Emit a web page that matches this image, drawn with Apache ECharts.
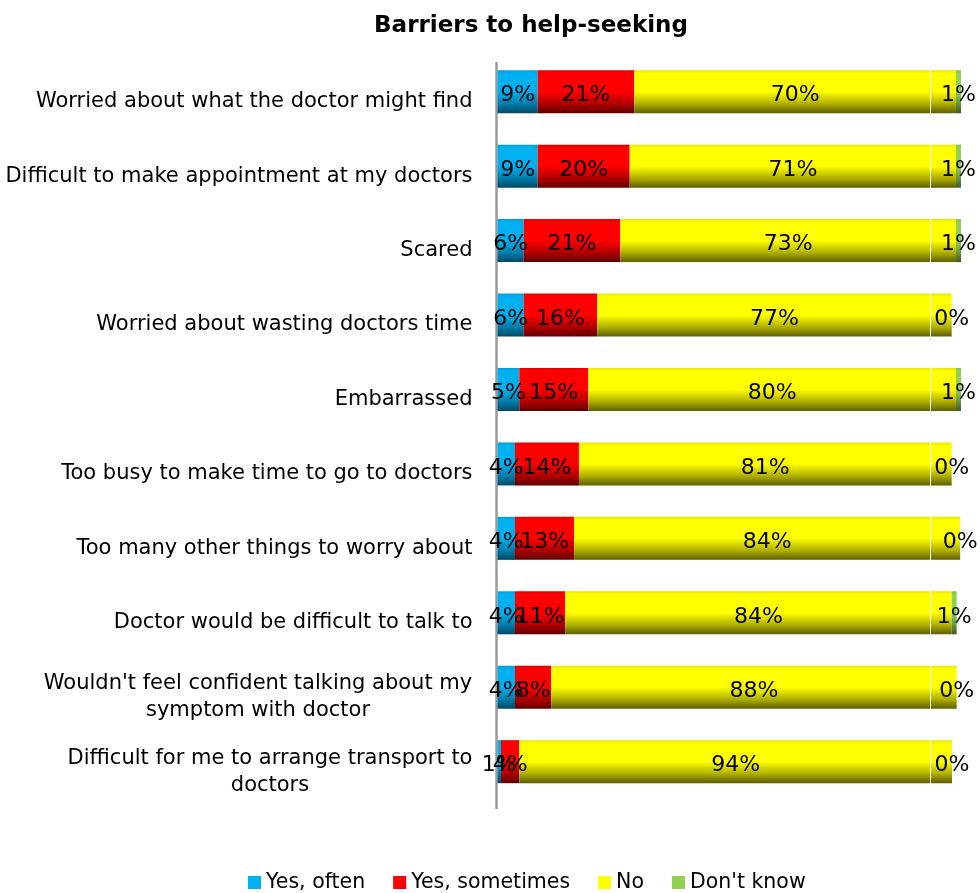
<!DOCTYPE html>
<html>
<head>
<meta charset="utf-8">
<title>Barriers to help-seeking</title>
<script src="https://cdn.jsdelivr.net/npm/echarts@6/dist/echarts.min.js"></script>
<style>
  html, body { margin: 0; padding: 0; background: #fff; }
  #chart { width: 980px; height: 893px; }
</style>
</head>
<body>
<div id="chart"></div>
<script>
// Survey categories, top to bottom
const categories = [
  'Worried about what the doctor might find',
  'Difficult to make appointment at my doctors',
  'Scared',
  'Worried about wasting doctors time',
  'Embarrassed',
  'Too busy to make time to go to doctors',
  'Too many other things to worry about',
  'Doctor would be difficult to talk to',
  "Wouldn't feel confident talking about my\nsymptom with doctor",
  'Difficult for me to arrange transport to\ndoctors'
];

// Percentages of respondents per answer
const yesOften     = [8.74, 8.74, 5.70, 5.70, 4.74, 3.80, 3.80, 3.80, 3.80, 0.76];
const yesSometimes = [21.0, 20.0, 21.0, 16.0, 15.0, 13.91, 12.87, 10.93, 7.89, 3.98];
const noAnswer     = [69.93, 70.93, 72.98, 77.04, 79.93, 81.02, 83.91, 84.0, 88.13, 94.07];
const dontKnow     = [1.09, 1.09, 1.09, 0, 1.09, 0, 0, 1.09, 0, 0];

const seriesNames = ['Yes, often', 'Yes, sometimes', 'No', "Don't know"];
const baseColors  = ['#00b0f0', '#ff0000', '#ffff00', '#92d050'];
const darkColors  = ['#004a66', '#600000', '#5e5e00', '#3f5a24'];
const dimColors   = ['#00a0da', '#e60000', '#e8e800', '#86c048'];

const FONT = '"DejaVu Sans", sans-serif';
const LABEL_SIZE = 21;

// Vertical shading: bright body fading to a dark lower edge
function shade(i) {
  return new echarts.graphic.LinearGradient(0, 0, 0, 1, [
    { offset: 0, color: dimColors[i] },
    { offset: 0.08, color: baseColors[i] },
    { offset: 0.5, color: baseColors[i] },
    { offset: 0.78, color: echarts.color.lerp(0.5, [baseColors[i], darkColors[i]]) },
    { offset: 1, color: darkColors[i] }
  ]);
}

// Width of a text line in the category font, for centring wrapped labels
const measureCtx = document.createElement('canvas').getContext('2d');
measureCtx.font = LABEL_SIZE + 'px ' + FONT;
function textWidth(s) { return Math.ceil(measureCtx.measureText(s).width); }

function categoryLabel(value) {
  const lines = value.split('\n');
  if (lines.length === 1) return value;
  const w = Math.max.apply(null, lines.map(textWidth));
  return lines.map(l => '{c' + w + '|' + l + '}').join('\n');
}

const rich = {};
categories.forEach(c => {
  const lines = c.split('\n');
  if (lines.length > 1) {
    const w = Math.max.apply(null, lines.map(textWidth));
    rich['c' + w] = {
      width: w, align: 'center', fontSize: LABEL_SIZE,
      fontFamily: FONT, color: '#000', lineHeight: 27
    };
  }
});

const seriesData = [yesOften, yesSometimes, noAnswer, dontKnow];

const series = seriesData.map((data, i) => {
  const s = {
    name: seriesNames[i],
    type: 'bar',
    stack: 'total',
    barWidth: 43,
    clip: false,
    data: data,
    itemStyle: { color: shade(i) },
    label: {
      show: true,
      position: 'inside',
      offset: [0, 4],
      formatter: p => Math.round(p.value) + '%',
      fontFamily: FONT,
      fontSize: 22,
      color: '#000',
      textBorderWidth: 0
    },
    emphasis: { disabled: true }
  };
  if (i === 2) {
    s.markLine = {
      silent: true,
      symbol: ['none', 'none'],
      label: { show: false },
      lineStyle: { color: '#ffffff', width: 1, type: 'solid' },
      data: [{ xAxis: 94 }]
    };
  }
  return s;
});

const chart = echarts.init(document.getElementById('chart'), null, { renderer: 'canvas' });

chart.setOption({
  animation: false,
  backgroundColor: '#ffffff',
  title: {
    text: 'Barriers to help-seeking',
    left: 526,
    textAlign: 'center',
    top: 10,
    textStyle: { fontFamily: FONT, fontSize: 23, fontWeight: 'bold', color: '#000' }
  },
  legend: {
    top: 872,
    left: 248,
    padding: 0,
    itemWidth: 13,
    itemHeight: 13,
    itemGap: 28,
    icon: 'rect',
    textStyle: { fontFamily: FONT, fontSize: 20.5, color: '#000' },
    data: seriesNames.map((n, i) => ({ name: n, itemStyle: { color: baseColors[i] } }))
  },
  grid: {
    left: 497.5,
    width: 460,
    top: 54.5,
    height: 744.4,
    containLabel: false
  },
  xAxis: {
    type: 'value',
    min: 0,
    max: 100,
    show: false
  },
  yAxis: {
    type: 'category',
    inverse: true,
    data: categories,
    axisLine: { show: false },
    axisTick: { show: false },
    splitLine: { show: false },
    axisLabel: {
      margin: 25,
      align: 'right',
      padding: [20, 0, 0, 0],
      fontFamily: FONT,
      fontSize: LABEL_SIZE,
      color: '#000',
      lineHeight: 27,
      formatter: categoryLabel,
      rich: rich
    }
  },
  graphic: [{
    type: 'line',
    z: 0,
    shape: { x1: 496.5, y1: 62, x2: 496.5, y2: 809 },
    style: { stroke: '#9a9a9a', lineWidth: 2.5 }
  }],
  series: series
});
</script>
</body>
</html>
